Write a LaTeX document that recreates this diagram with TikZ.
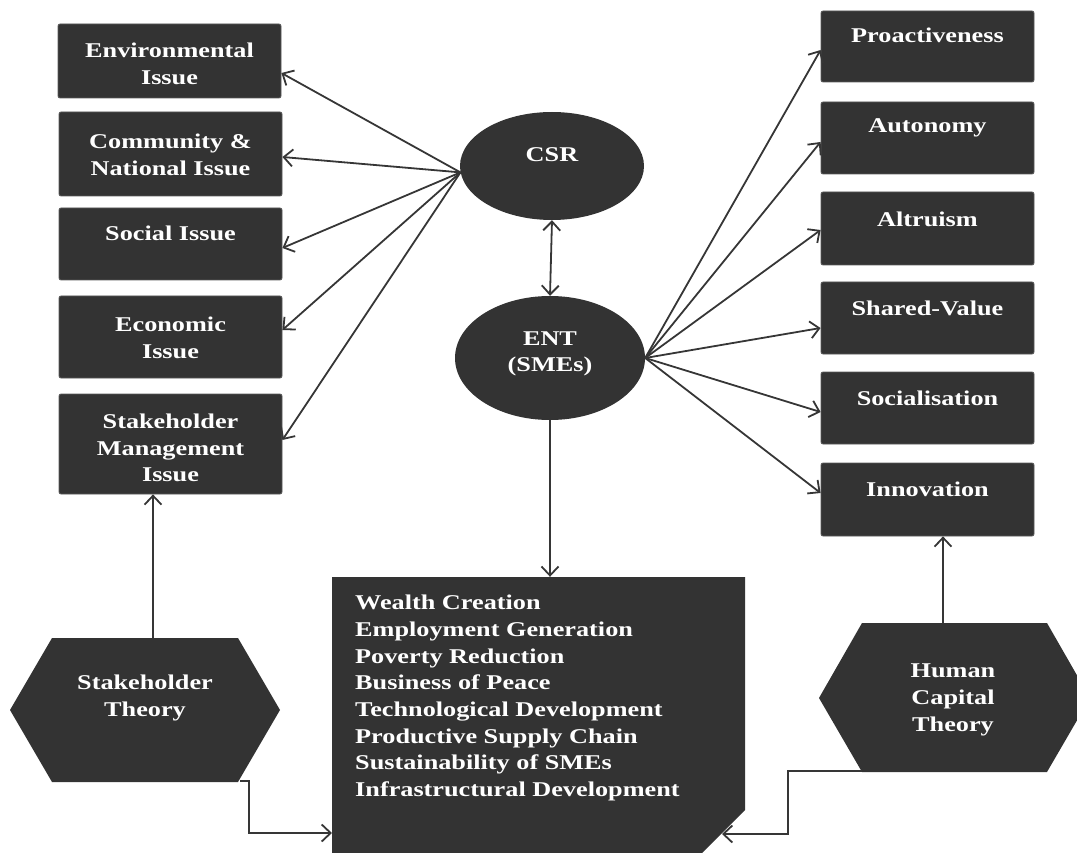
\documentclass[tikz,border=0pt]{standalone}
\usepackage{fontspec}
\setmainfont{Liberation Serif}
\newfontfamily\boxfont{Liberation Serif}[FakeStretch=1.25]
\usetikzlibrary{arrows.meta,calc,shapes.geometric}

\definecolor{boxgray}{HTML}{333333}
\definecolor{edgegray}{HTML}{5A5A5A}
\definecolor{linegray}{HTML}{363636}

\tikzset{
  x=1pt, y=-1pt,
  barb/.tip={Straight Barb[length=9pt,width=17pt]},
  panel/.style={fill=boxgray, draw=edgegray, line width=0.8pt, rounded corners=2pt, inner sep=0pt},
  lpanel/.style={panel, minimum width=223pt},
  rpanel/.style={panel, minimum width=213pt},
  oval/.style={ellipse, fill=boxgray, inner sep=0pt},
  caption/.style={text=white, font=\boxfont\bfseries\fontsize{21}{26.7}\selectfont, align=center, inner sep=0pt},
  link/.style={draw=linegray, line width=1.8pt, -barb},
}

\begin{document}
\begin{tikzpicture}
\useasboundingbox (0,0) rectangle (1077,853);
\clip (0,0) rectangle (1077,853);

% issue boxes on the left
\node[lpanel, minimum height=74pt] (env) at (169.5,61) {};
\node[caption] (envt) at (169.5,64) {Environmental\\Issue};
\node[lpanel, minimum height=84pt] (com) at (170.5,154) {};
\node[caption] (comt) at (170.5,155) {Community \&\\National Issue};
\node[lpanel, minimum height=72pt] (soc) at (170.5,244) {};
\node[caption] (soct) at (170.5,233) {Social Issue};
\node[lpanel, minimum height=82pt] (eco) at (170.5,337) {};
\node[caption] (ecot) at (170.5,338) {Economic\\Issue};
\node[lpanel, minimum height=100pt] (stm) at (170.5,444) {};
\node[caption] (stmt) at (170.5,448) {Stakeholder\\Management\\Issue};

% dimension boxes on the right
\node[rpanel, minimum height=71pt] (pro) at (927.5,46.5) {};
\node[caption] (prot) at (927.5,35) {Proactiveness};
\node[rpanel, minimum height=72pt] (aut) at (927.5,138) {};
\node[caption] (autt) at (927.5,128) {Autonomy};
\node[rpanel, minimum height=73pt] (alt) at (927.5,228.5) {};
\node[caption] (altt) at (927.5,219) {Altruism};
\node[rpanel, minimum height=72pt] (sha) at (927.5,318) {};
\node[caption] (shat) at (927.5,308) {Shared-Value};
\node[rpanel, minimum height=72pt] (sol) at (927.5,408) {};
\node[caption] (solt) at (927.5,398) {Socialisation};
\node[rpanel, minimum height=73pt] (inn) at (927.5,499.5) {};
\node[caption] (innt) at (927.5,489) {Innovation};

% central ovals
\node[oval, minimum width=184pt, minimum height=108pt] (csr) at (552,166) {};
\node[caption] (csrt) at (552,155) {CSR};
\node[oval, minimum width=190pt, minimum height=124pt] (ent) at (550,358) {};
\node[caption] (entt) at (550,354) {ENT\\(SMEs)};

% outcomes panel with a cut corner
\fill[boxgray] (332,577) -- (745,577) -- (745,810) -- (702,853) -- (332,853) -- cycle;
\node[minimum width=413pt, minimum height=276pt, inner sep=0pt] (out) at (538.5,715) {};
\node[caption, align=left, anchor=north west] (outt) at (355,595)
  {Wealth Creation\\Employment Generation\\Poverty Reduction\\Business of Peace\\
   Technological Development\\Productive Supply Chain\\Sustainability of SMEs\\
   Infrastructural Development};

% theory hexagons
\fill[boxgray] (10,710) -- (52,638) -- (238,638) -- (280,710) -- (238,782) -- (52,782) -- cycle;
\node[caption] (sth) at (145,698) {Stakeholder\\Theory};
\coordinate (sthTop) at (153,638);
\coordinate (sthCorner) at (240,781);

\fill[boxgray] (819,698) -- (862,623) -- (1047,623) -- (1090,698) -- (1047,772) -- (862,772) -- cycle;
\node[caption] (hct) at (953,700) {Human\\Capital\\Theory};
\coordinate (hcTop) at (943,623);
\coordinate (hcCorner) at (862,771);

% CSR to its issues
\draw[link] (csr.184) -- ($(env.east)+(0,12)$);
\draw[link] (csr.184) -- ($(com.east)+(0,3)$);
\draw[link] (csr.184) -- ($(soc.east)+(0,4)$);
\draw[link] (csr.184) -- ($(eco.east)+(0,-7)$);
\draw[link] (csr.184) -- ($(stm.east)+(0,-4)$);

% ENT to its dimensions
\draw[link] (ent.east) -- ($(pro.west)+(0,3.5)$);
\draw[link] (ent.east) -- ($(aut.west)+(0,4)$);
\draw[link] (ent.east) -- ($(alt.west)+(0,1.5)$);
\draw[link] (ent.east) -- ($(sha.west)+(0,10)$);
\draw[link] (ent.east) -- ($(sol.west)+(0,4)$);
\draw[link] (ent.east) -- ($(inn.west)+(0,-6.5)$);

% CSR and ENT, and ENT to outcomes
\draw[link, barb-barb] (csr.south) -- (ent.north);
\draw[link] (ent.south) -- (ent.south |- out.north);

% theories
\draw[link] (sthTop) -- (sthTop |- stm.south);
\draw[link] (hcTop) -- (hcTop |- inn.south);
\coordinate (inS) at (332,833);
\coordinate (inH) at (722,834);
\draw[link] (sthCorner) -- ++(9,0) |- (inS);
\draw[link] (hcCorner) -- (788,771) |- (inH);
\end{tikzpicture}
\end{document}
